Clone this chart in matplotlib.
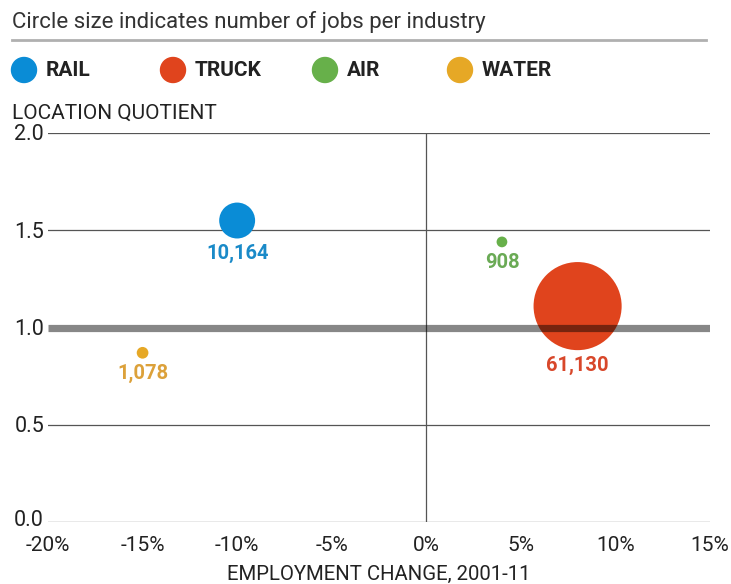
import matplotlib
matplotlib.use("Agg")
import matplotlib.pyplot as plt
from matplotlib.patches import Circle
from matplotlib.lines import Line2D

industries = ["RAIL", "TRUCK", "AIR", "WATER"]
emp_change = [-10.0, 8.0, 4.0, -15.0]
location_quotient = [1.55, 1.11, 1.44, 0.87]
jobs = [10164, 61130, 908, 1078]
job_labels = ["10,164", "61,130", "908", "1,078"]
colors = ["#0a8cd6", "#e0441d", "#67b04a", "#e6a826"]
text_colors = ["#1a8ac8", "#d8472a", "#6aaa55", "#dca13a"]
xticks = [-20, -15, -10, -5, 0, 5, 10, 15]
yticks = [0.0, 0.5, 1.0, 1.5, 2.0]

plt.rcParams['font.family'] = ['Roboto', 'DejaVu Sans']

W, H = 731, 584
fig = plt.figure(figsize=(W / 100, H / 100), dpi=100)
ax = fig.add_axes([48 / W, (H - 522) / H, (710 - 48) / W, (522 - 133) / H])
ax.set_xlim(-20, 15)
ax.set_ylim(0, 2.0)
for s in ax.spines.values():
    s.set_visible(False)
ax.tick_params(length=0, pad=10)
ax.set_xticks(xticks)
ax.set_xticklabels([f"{t}%" for t in xticks], fontsize=15, color="#222222")
ax.set_yticks([])

# horizontal gridlines
for yv in yticks:
    if yv != 1.0:
        ax.axhline(yv, color="#555555", lw=0.9, zorder=1)
# zero vertical line
ax.axvline(0, color="#555555", lw=0.9, zorder=1)

# y tick labels
for yv in yticks:
    ypix = ax.transData.transform((0, yv))[1]
    if yv == 0.0:
        ypix += 3
    fig.text(44 / W, (ypix - 2) / H, f"{yv:.1f}",
             ha="right", va="center", fontsize=15.5, color="#222222")

# bubbles (area proportional to jobs)
sizes = [j * 0.0658 for j in jobs]
ax.scatter(emp_change, location_quotient, s=sizes, c=colors, zorder=3, linewidths=0)

# reference line at 1.0 over bubbles
ax.axhline(1.0, color="black", alpha=0.47, lw=5.2, zorder=4, solid_capstyle="butt")

# labels under bubbles
for x, y, s, lab, tc in zip(emp_change, location_quotient, sizes, job_labels, text_colors):
    r_pt = (s ** 0.5) / 2
    ax.annotate(lab, (x, y), xytext=(0, -r_pt - 4), textcoords="offset points",
                ha="center", va="top", fontsize=14.5, fontweight="bold", color=tc, zorder=5)

ax.set_xlabel("EMPLOYMENT CHANGE, 2001-11", fontsize=14.7, color="#222222", labelpad=7)

# title
fig.text(12 / W, 1 - 22 / H, "Circle size indicates number of jobs per industry",
         fontsize=16, color="#333333", ha="left", va="center")
fig.add_artist(Line2D([12 / W, 706 / W], [1 - 40 / H, 1 - 40 / H], color="#b0b0b0", lw=2))

# legend
leg_x = [24, 173, 325, 460]
for name, col, lx in zip(industries, colors, leg_x):
    fig.add_artist(Circle((lx, (H - 70)), 12.5, color=col, transform=None))
    fig.text((lx + 22) / W, 1 - 71 / H, name, fontsize=15, fontweight="bold",
             color="#222222", ha="left", va="center")

fig.text(12 / W, 1 - 113 / H, "LOCATION QUOTIENT", fontsize=15, color="#222222",
         ha="left", va="center")

fig.savefig("out.png", dpi=100)
